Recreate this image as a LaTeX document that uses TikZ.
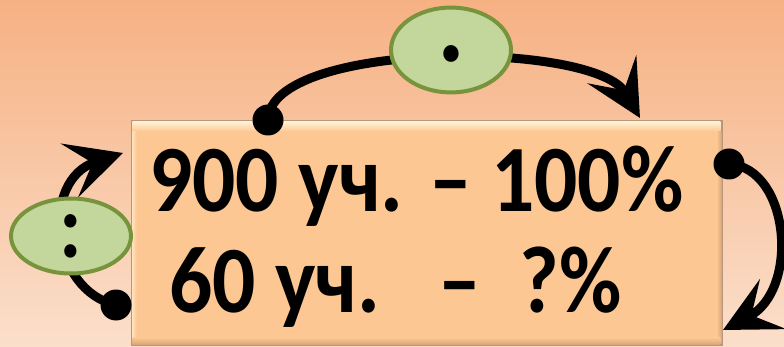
\documentclass[tikz,border=0pt]{standalone}
\usepackage{fontspec}
\setmainfont{Carlito}
\newfontfamily\ratiofont[FakeStretch=0.9]{Carlito}
\usetikzlibrary{arrows.meta,shapes.geometric}
\definecolor{PeachTop}{HTML}{F6B183}
\definecolor{PeachMid}{HTML}{F9CC9A}
\definecolor{PeachLow}{HTML}{FBDFCB}
\definecolor{CardFill}{HTML}{FDC794}
\definecolor{CardEdge}{HTML}{A47D5C}
\definecolor{CardShine}{HTML}{FFF4D6}
\definecolor{CardShade}{HTML}{D9A576}
\definecolor{OvalFill}{HTML}{C3D69B}
\definecolor{OvalEdge}{HTML}{77933C}
\tikzset{
  card/.style={draw=CardEdge!80,fill=CardFill,line width=1.2pt,
    minimum width=590pt,minimum height=224pt,inner sep=0pt},
  oval/.style={ellipse,draw=OvalEdge,fill=OvalFill,line width=4pt,
    minimum width=120pt,minimum height=75pt,inner sep=0pt,
    font=\ratiofont\bfseries\fontsize{91}{91}\selectfont},
  dot/.style={circle,fill=black,minimum size=31pt,inner sep=0pt},
  loop/.style={line width=9pt,-{Stealth[length=56pt,width=56pt,inset=24pt]}},
  ratio/.style={anchor=base west,inner sep=0pt,
    font=\ratiofont\bfseries\fontsize{95}{95}\selectfont}
}

\begin{document}
\begin{tikzpicture}[x=1pt,y=-1pt]
  \useasboundingbox (0,0) rectangle (784,347);
  \shade[top color=PeachTop,middle color=PeachMid,bottom color=PeachLow]
    (0,0) rectangle (784,347);
  \node[card] (card) at (427,233) {};
  \shade[top color=CardShine,bottom color=CardFill]
    ([xshift=1pt,yshift=-1pt]card.north west) rectangle ++(588,10);
  \shade[left color=CardShine!60!CardFill,right color=CardFill]
    ([xshift=1pt,yshift=-11pt]card.north west) rectangle ++(4,212);
  \shade[left color=CardFill,right color=CardShade]
    ([xshift=-6pt,yshift=-11pt]card.north east) rectangle ++(5,212);
  \shade[top color=CardFill,bottom color=CardShade]
    ([xshift=1pt,yshift=8pt]card.south west) rectangle ++(588,7);
  \node[ratio] (whole) at (149,212) {900 уч. – 100\%};
  \node[ratio] (part) at (169,312) {60 уч.\ \ \ –\ \ ?\%};
  \coordinate (t1) at (640,118);
  \coordinate (t2) at (123,153);
  \coordinate (t3) at (723,330);
  \node[dot] (d1) at (268,120) {};
  \node[dot] (d2) at (116,305) {};
  \node[dot] (d3) at (729,164) {};
  \draw[loop] (d1.center) .. controls (270,40) and (595,40) .. (t1);
  \draw[loop] (d2.center) .. controls (50,290) and (40,180) .. (t2);
  \draw[loop] (d3.center) .. controls (790,168) and (800,290) .. (t3);
  \node[oval,text height=60pt,text depth=0pt] (times) at (451,50) {·};
  \node[oval] (split) at (71,236) {:};
\end{tikzpicture}
\end{document}
